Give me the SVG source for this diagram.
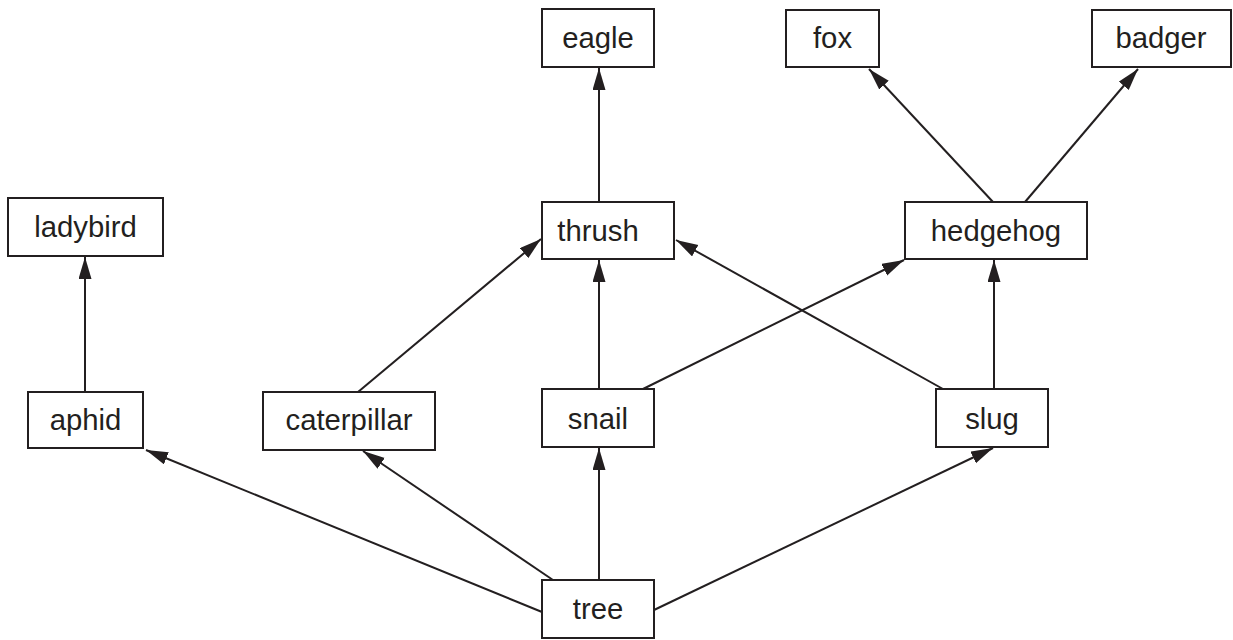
<svg xmlns="http://www.w3.org/2000/svg" width="1233" height="640" viewBox="0 0 1233 640">
<style>
.n rect{fill:#fff;stroke:#231f20;stroke-width:2}
.n text{font-family:"Liberation Sans",Arial,sans-serif;font-size:29.3px;fill:#231f20;text-anchor:middle}
.e line{stroke:#231f20;stroke-width:2;marker-end:url(#ah)}
</style>
<defs>
<marker id="ah" markerUnits="userSpaceOnUse" markerWidth="24" markerHeight="14" refX="22" refY="6.5" orient="auto">
<path d="M0,0 L22,6.5 L0,13 z" fill="#231f20"/>
</marker>
</defs>
<rect width="1233" height="640" fill="#fff"/>
<g id="edges" class="e">
<line x1="85" y1="392" x2="85" y2="257"/>
<line x1="542" y1="612" x2="146" y2="450"/>
<line x1="553" y1="580" x2="363" y2="451"/>
<line x1="599" y1="580" x2="599" y2="448"/>
<line x1="654" y1="610" x2="993" y2="448"/>
<line x1="358" y1="392" x2="541" y2="239"/>
<line x1="599" y1="389" x2="599" y2="260"/>
<line x1="643" y1="389" x2="904" y2="260"/>
<line x1="943" y1="389" x2="676" y2="240"/>
<line x1="994" y1="389" x2="994" y2="260"/>
<line x1="599" y1="202" x2="599" y2="68"/>
<line x1="993" y1="202" x2="869" y2="69"/>
<line x1="1025" y1="202" x2="1138" y2="69"/>
</g>
<g id="ladybird" class="n"><rect x="8" y="198" width="155" height="58"/><text x="85.5" y="237">ladybird</text></g>
<g id="aphid" class="n"><rect x="28" y="392" width="115" height="56"/><text x="85.5" y="430">aphid</text></g>
<g id="caterpillar" class="n"><rect x="263" y="392" width="172" height="58"/><text x="349" y="430">caterpillar</text></g>
<g id="snail" class="n"><rect x="542" y="389" width="112" height="58"/><text x="598" y="429">snail</text></g>
<g id="slug" class="n"><rect x="936" y="389" width="112" height="58"/><text x="992" y="429">slug</text></g>
<g id="tree" class="n"><rect x="542" y="580" width="112" height="58"/><text x="598" y="619">tree</text></g>
<g id="thrush" class="n"><rect x="542" y="202" width="132" height="57"/><text x="598" y="241">thrush</text></g>
<g id="hedgehog" class="n"><rect x="905" y="202" width="182" height="57"/><text x="996" y="241">hedgehog</text></g>
<g id="eagle" class="n"><rect x="542" y="9" width="112" height="58"/><text x="598" y="48">eagle</text></g>
<g id="fox" class="n"><rect x="786" y="10" width="93" height="57"/><text x="832.5" y="48">fox</text></g>
<g id="badger" class="n"><rect x="1092" y="10" width="139" height="57"/><text x="1161" y="48">badger</text></g>
</svg>
